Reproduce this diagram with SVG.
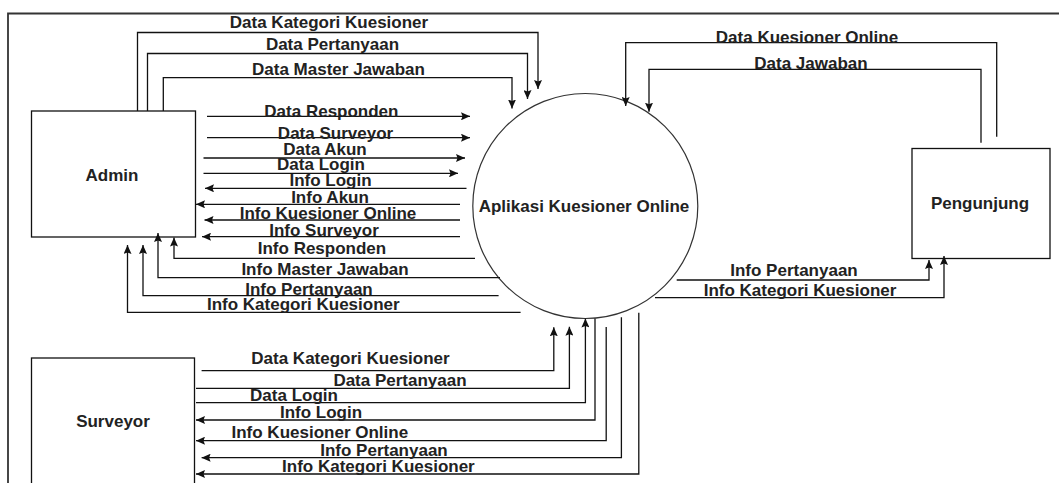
<svg xmlns="http://www.w3.org/2000/svg" width="1059" height="483" viewBox="0 0 1059 483">
<style>
.lbl{font-family:"Liberation Sans",Arial,sans-serif;font-weight:bold;font-size:17px;fill:#222;text-anchor:middle}
.box{fill:#fff;stroke:#111;stroke-width:1.3}
.ln{fill:none;stroke:#111;stroke-width:1.3;marker-end:url(#arr)}
</style>
<defs>
<marker id="arr" viewBox="0 0 9 8" refX="9" refY="4" markerWidth="9" markerHeight="8" markerUnits="userSpaceOnUse" orient="auto">
<path d="M0,0 L9,4 L0,8 L1.5,4 z" fill="#111"/>
</marker>
</defs>
<rect width="1059" height="483" fill="#fff"/>
<path d="M8,483 V13.5 H1059" fill="none" stroke="#333" stroke-width="1.8"/>

<g id="admin"><rect class="box" x="31.5" y="111" width="164" height="126"/><text class="lbl" x="112" y="181">Admin</text></g>
<g id="surveyor"><rect class="box" x="31.5" y="358" width="163" height="140"/><text class="lbl" x="113" y="427">Surveyor</text></g>
<g id="pengunjung"><rect class="box" x="912" y="148.5" width="138" height="110"/><text class="lbl" x="980" y="209">Pengunjung</text></g>
<g id="aplikasi"><circle cx="585.3" cy="206" r="112.5" fill="#fff" stroke="#333" stroke-width="1.2"/><text class="lbl" x="584" y="211.5">Aplikasi Kuesioner Online</text></g>

<g id="connectors">
<path class="ln" d="M137.5,111 V32.5 H538 V89"/>
<path class="ln" d="M147.5,111 V53.5 H527.5 V99"/>
<path class="ln" d="M163.3,111 V77.7 H512 V108.5"/>
<path class="ln" d="M207,116.3 H470"/>
<path class="ln" d="M207,137.7 H470"/>
<path class="ln" d="M203.5,158 H465"/>
<path class="ln" d="M203.5,173.3 H458"/>
<path class="ln" d="M466.5,188.3 H205"/>
<path class="ln" d="M460,204.3 H196"/>
<path class="ln" d="M460,220 H204.5"/>
<path class="ln" d="M460,236.7 H202"/>
<path class="ln" d="M475,258.3 H174 V237.5"/>
<path class="ln" d="M500,277.7 H158 V233"/>
<path class="ln" d="M498.6,295.7 H143 V245"/>
<path class="ln" d="M520.6,312.3 H127.5 V245"/>

<path class="ln" d="M201.6,370.7 H553.8 V327.3"/>
<path class="ln" d="M196,388.3 H569.4 V326.7"/>
<path class="ln" d="M196,402.7 H585.4 V318.5"/>
<path class="ln" d="M595,318.5 V420 H196"/>
<path class="ln" d="M606.2,327 V440.7 H196"/>
<path class="ln" d="M621.4,317.3 V457.7 H201.6"/>
<path class="ln" d="M638.8,312.7 V474 H196"/>

<path class="ln" d="M996.7,136.7 V42.7 H625.7 V106"/>
<path class="ln" d="M981,142.7 V69.3 H649 V111.7"/>
<path class="ln" d="M676.7,280 H929 V260"/>
<path class="ln" d="M655,297.7 H944 V256"/>
</g>

<g id="labels">
<text class="lbl" x="329" y="27.5">Data Kategori Kuesioner</text>
<text class="lbl" x="332.5" y="50">Data Pertanyaan</text>
<text class="lbl" x="338.5" y="75">Data Master Jawaban</text>
<text class="lbl" x="331.4" y="117">Data Responden</text>
<text class="lbl" x="335.5" y="139">Data Surveyor</text>
<text class="lbl" x="325" y="155">Data Akun</text>
<text class="lbl" x="321" y="170">Data Login</text>
<text class="lbl" x="330.5" y="186">Info Login</text>
<text class="lbl" x="330" y="203">Info Akun</text>
<text class="lbl" x="328" y="219">Info Kuesioner Online</text>
<text class="lbl" x="324" y="235.5">Info Surveyor</text>
<text class="lbl" x="322" y="254">Info Responden</text>
<text class="lbl" x="325" y="275">Info Master Jawaban</text>
<text class="lbl" x="309" y="295">Info Pertanyaan</text>
<text class="lbl" x="303.3" y="310">Info Kategori Kuesioner</text>

<text class="lbl" x="350.5" y="364">Data Kategori Kuesioner</text>
<text class="lbl" x="400" y="385.5">Data Pertanyaan</text>
<text class="lbl" x="294" y="401">Data Login</text>
<text class="lbl" x="321" y="417.5">Info Login</text>
<text class="lbl" x="319.8" y="438">Info Kuesioner Online</text>
<text class="lbl" x="384" y="456">Info Pertanyaan</text>
<text class="lbl" x="378.4" y="471.5">Info Kategori Kuesioner</text>

<text class="lbl" x="807" y="42.5">Data Kuesioner Online</text>
<text class="lbl" x="811" y="69">Data Jawaban</text>
<text class="lbl" x="794" y="276">Info Pertanyaan</text>
<text class="lbl" x="800" y="295.5">Info Kategori Kuesioner</text>
</g>
</svg>
